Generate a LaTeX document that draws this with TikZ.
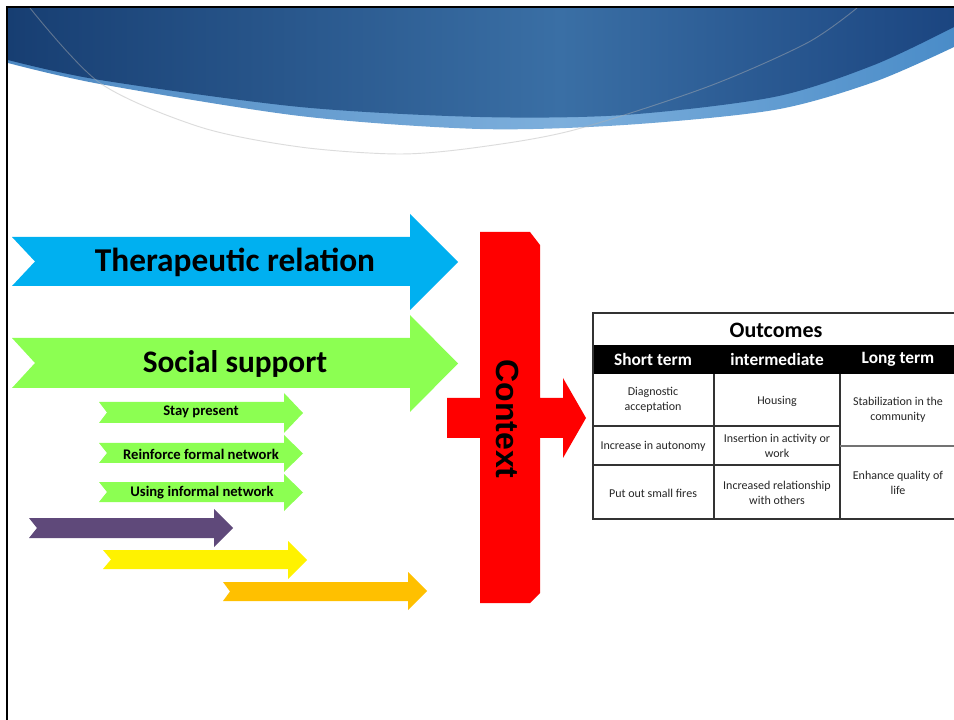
\documentclass[tikz,border=0pt]{standalone}
\usepackage{fontspec}
\setmainfont{Carlito}
\newfontfamily\arialfont{Liberation Sans}
\definecolor{navyA}{HTML}{173E72}
\definecolor{navyB}{HTML}{3A6FA5}
\definecolor{navyC}{HTML}{1B4580}
\definecolor{bandA}{HTML}{4C88C2}
\definecolor{bandB}{HTML}{7DAFDC}
\definecolor{bandC}{HTML}{4A8CC8}
\definecolor{relblue}{HTML}{00B0F0}
\definecolor{suppgreen}{HTML}{8CFF52}
\definecolor{plum}{HTML}{5F497A}
\definecolor{amber}{HTML}{FFC000}
\definecolor{cellgray}{HTML}{262626}
% notched block arrow: colour, x left, x notch, body top, body bottom,
% head base x, head top, head bottom, tip x
\newcommand{\notchedarrow}[9]{%
  \fill[#1] (#2,#4) -- (#6,#4) -- (#6,#7) -- (#9,{(#7+#8)/2}) -- (#6,#8)
    -- (#6,#5) -- (#2,#5) -- (#3,{(#4+#5)/2}) -- cycle;}
\begin{document}
\begin{tikzpicture}[x=0.75pt,y=-0.75pt,
  bigtxt/.style={inner sep=0pt,font=\bfseries\fontsize{25}{30}\selectfont},
  smalltxt/.style={inner sep=0pt,font=\bfseries\fontsize{11}{13}\selectfont},
  headtxt/.style={inner sep=0pt,text=white,font=\bfseries\fontsize{13}{15}\selectfont},
  celltxt/.style={inner sep=0pt,align=center,text=cellgray,font=\fontsize{9}{11.7}\selectfont},
  tline/.style={line width=0.8pt,black!80}]
\useasboundingbox (0,0) rectangle (954,720);
\fill[white] (0,0) rectangle (954,720);

% banner across the top
\begin{scope}
  \clip (8,8) -- (954,8) -- (954,47) -- plot[smooth] coordinates
    {(954,47) (874,82) (774,110) (624,125) (480,129) (300,116) (100,84) (8,63)} -- cycle;
  \shade[left color=bandA,right color=bandB] (8,8) rectangle (560,140);
  \shade[left color=bandB,right color=bandC] (560,8) rectangle (954,140);
\end{scope}
\begin{scope}
  \clip (8,8) -- (954,8) -- (954,27) -- plot[smooth] coordinates
    {(954,27) (874,65) (774,97) (624,115) (480,117) (300,107) (100,80) (8,60)} -- cycle;
  \shade[left color=navyA,right color=navyB] (8,8) rectangle (560,140);
  \shade[left color=navyB,right color=navyC] (560,8) rectangle (954,140);
\end{scope}
\draw[black!30,opacity=0.45,line width=0.7pt] plot[smooth] coordinates
  {(30,8) (100,83) (200,127) (300,147) (400,154) (480,147) (574,130) (707,87) (807,43) (857,8)};

% frame
\draw[line width=1.5pt] (7,720) -- (7,7) -- (954,7);

% block arrows
\notchedarrow{relblue}{12}{35}{237}{286}{410}{214}{310}{458}
\notchedarrow{suppgreen}{12}{35}{338}{388}{410}{315}{412}{458}
\notchedarrow{suppgreen}{99}{107}{402}{423}{284}{393}{433}{303}
\notchedarrow{suppgreen}{99}{107}{443}{463}{284}{435}{472}{303}
\notchedarrow{suppgreen}{99}{107}{482}{502}{284}{474}{511}{303}
\notchedarrow{plum}{29}{37}{518}{538}{214}{509}{547}{233}
\notchedarrow{yellow}{103}{111}{550}{569}{288}{541}{579}{307}
\notchedarrow{amber}{223}{230}{582}{601}{408}{572}{610}{427}

\node[bigtxt] (ther) at (235,262) {Therapeutic relation};
\node[bigtxt,font=\bfseries\fontsize{23.5}{28}\selectfont] (soc) at (235,364) {Social support};
\node[smalltxt] (stay) at (201,412) {Stay present};
\node[smalltxt] (reinf) at (201,454) {Reinforce formal network};
\node[smalltxt] (usinf) at (202,493) {Using informal network};

% context bar with its outgoing arrow
\fill[red] (480,232) -- (530,232) -- (540,245) -- (540,398) -- (563,398) -- (563,378)
  -- (586,418) -- (563,458) -- (563,438) -- (540,438) -- (540,593) -- (530,603)
  -- (480,603) -- (480,438) -- (447,438) -- (447,398) -- (480,398) -- cycle;
\node[inner sep=0pt,rotate=-90,font=\arialfont\bfseries\fontsize{24}{28}\selectfont]
  (ctx) at (508,419) {Context};

% outcomes table
\fill[black] (593,345) rectangle (954,374);
\draw[tline] (954,313) -- (593,313) -- (593,519) -- (954,519);
\draw[tline] (714,374) -- (714,519);
\draw[tline] (840,374) -- (840,519);
\draw[tline] (593,426) -- (840,426);
\draw[tline] (593,465) -- (840,465);
\draw[black!55,line width=1.4pt] (840,446) -- (954,446);

\node[inner sep=0pt,font=\bfseries\fontsize{16.5}{20}\selectfont] (outc) at (776,330) {Outcomes};
\node[headtxt] (hshort) at (653,359) {Short term};
\node[headtxt] (hmid) at (777,359) {intermediate};
\node[headtxt] (hlong) at (898,359) {Long term};

\node[celltxt] (c11) at (653,400) {Diagnostic\\acceptation};
\node[celltxt] (c12) at (777,401) {Housing};
\node[celltxt] (c13) at (898,410) {Stabilization in the\\community};
\node[celltxt] (c21) at (653,446) {Increase in autonomy};
\node[celltxt] (c22) at (777,446) {Insertion in activity or\\work};
\node[celltxt] (c31) at (653,493) {Put out small fires};
\node[celltxt] (c32) at (777,493) {Increased relationship\\with others};
\node[celltxt] (c33) at (898,483) {Enhance quality of\\life};
\end{tikzpicture}
\end{document}
